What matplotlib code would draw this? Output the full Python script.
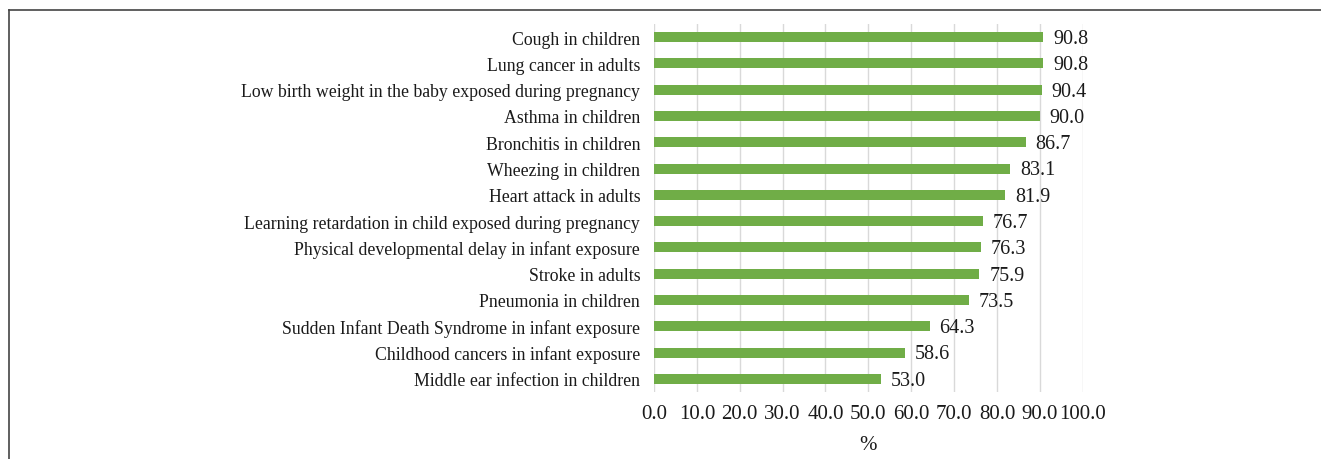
import matplotlib.pyplot as plt
from matplotlib.lines import Line2D

categories = [
    'Cough in children',
    'Lung cancer in adults',
    'Low birth weight in the baby exposed during pregnancy',
    'Asthma in children',
    'Bronchitis in children',
    'Wheezing in children',
    'Heart attack in adults',
    'Learning retardation in child exposed during pregnancy',
    'Physical developmental delay in infant exposure',
    'Stroke in adults',
    'Pneumonia in children',
    'Sudden Infant Death Syndrome in infant exposure',
    'Childhood cancers in infant exposure',
    'Middle ear infection in children',
]
values = [90.8, 90.8, 90.4, 90.0, 86.7, 83.1, 81.9, 76.7, 76.3, 75.9, 73.5, 64.3, 58.6, 53.0]
xticks = [0, 10, 20, 30, 40, 50, 60, 70, 80, 90, 100]

plt.rcParams['font.family'] = ['Liberation Serif', 'DejaVu Serif']

fig = plt.figure(figsize=(13.21, 4.60), dpi=100)
ax = fig.add_axes([0.4951, 0.1457, 0.8196 - 0.4951, 0.9457 - 0.1457])

ypos = list(range(len(categories)))
ax.barh(ypos, values, height=0.38, color='#70AD47', zorder=3)
for y, v in zip(ypos, values):
    ax.text(v + 2.3, y + 0.05, f'{v:.1f}', va='center', ha='left', fontsize=14.5, color='#1a1a1a')

ax.set_yticks(ypos)
ax.set_yticklabels(categories, fontsize=12.8, color='#1a1a1a')
ax.set_ylim(len(categories) - 0.5, -0.5)
ax.set_xlim(0, 100)
ax.set_xticks(xticks)
ax.set_xticklabels([f'{t:.1f}' for t in xticks], fontsize=15, color='#1a1a1a')
ax.tick_params(length=0)
ax.tick_params(axis='y', pad=10)
ax.tick_params(axis='x', pad=9)
ax.set_xlabel('%', fontsize=15, color='#1a1a1a', labelpad=8)
ax.grid(axis='x', color='#D9D9D9', linewidth=1, zorder=0)
for s in ax.spines.values():
    s.set_visible(False)

# frame lines (left and top)
fig.add_artist(Line2D([9 / 1321, 9 / 1321], [0, 1 - 11 / 460], color='#444444', linewidth=1.2))
fig.add_artist(Line2D([9 / 1321, 1], [1 - 11 / 460, 1 - 11 / 460], color='#444444', linewidth=1.2))

plt.savefig('out.png', dpi=100)
